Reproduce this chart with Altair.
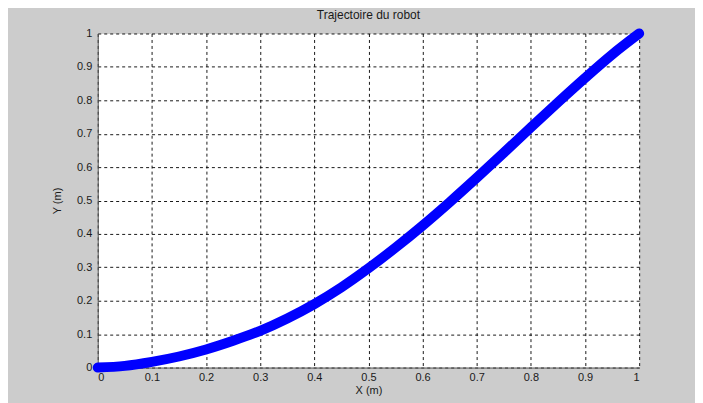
import altair as alt
import pandas as pd

x_vals = [0.0, 0.05, 0.1, 0.15, 0.2, 0.25, 0.3, 0.35, 0.4, 0.45, 0.5,
          0.55, 0.6, 0.65, 0.7, 0.75, 0.8, 0.85, 0.9, 0.95, 1.0]
y_vals = [0.0, 0.005, 0.017, 0.033, 0.054, 0.080, 0.110, 0.147, 0.190, 0.240, 0.297,
          0.359, 0.425, 0.495, 0.568, 0.643, 0.719, 0.794, 0.867, 0.937, 1.0]
ticks = [0, 0.1, 0.2, 0.3, 0.4, 0.5, 0.6, 0.7, 0.8, 0.9, 1]

df = pd.DataFrame({"x": x_vals, "y": y_vals})

font = "Liberation Sans"

axis_common = dict(
    values=ticks,
    format="~g",
    grid=True,
    gridColor="#000000",
    gridDash=[3, 3],
    gridWidth=1,
    gridOpacity=0.9,
    domainColor="#555555",
    domainWidth=1,
    ticks=False,
    labelFont=font,
    labelFontSize=11,
    labelColor="#1a1a1a",
    titleFont=font,
    titleFontSize=11,
    titleFontWeight="normal",
    titleColor="#1a1a1a",
)

chart = alt.Chart(df).mark_line(
    color="#0000ff", strokeWidth=10, strokeCap="round", strokeJoin="round",
    interpolate="monotone", clip=False
).encode(
    x=alt.X("x:Q", scale=alt.Scale(domain=[0, 1], nice=False),
            axis=alt.Axis(title="X (m)", labelPadding=4, titlePadding=2, **axis_common)),
    y=alt.Y("y:Q", scale=alt.Scale(domain=[0, 1], nice=False),
            axis=alt.Axis(title="Y (m)", labelPadding=6, titlePadding=14, **axis_common)),
).properties(
    width=543,
    height=335,
    background="#cccccc",
    padding={"left": 90, "top": 25, "right": 56, "bottom": 35},
    autosize=alt.AutoSizeParams(type="none"),
    title=alt.TitleParams("Trajectoire du robot", font=font, fontSize=12,
                          fontWeight="normal", color="#1a1a1a", offset=6),
).configure_view(
    fill="white", stroke="transparent"
)

chart.save("out.html", embed_options={"renderer": "svg", "actions": False})
